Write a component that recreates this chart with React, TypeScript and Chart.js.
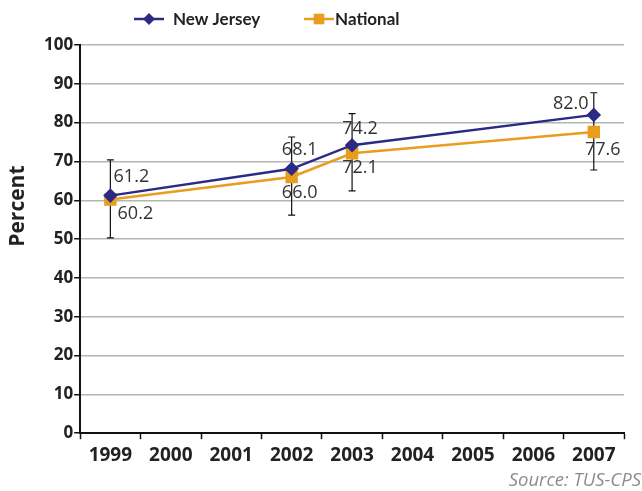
import React, { useEffect, useRef } from 'react';
import { Chart, registerables } from 'chart.js';

Chart.register(...registerables);

const years = ['1999', '2000', '2001', '2002', '2003', '2004', '2005', '2006', '2007'];
const newJersey: (number | null)[] = [61.2, null, null, 68.1, 74.2, null, null, null, 82.0];
const national: (number | null)[] = [60.2, null, null, 66.0, 72.1, null, null, null, 77.6];
const errLow: (number | null)[] = [50.3, null, null, 56.2, 62.4, null, null, null, 67.8];
const errHigh: (number | null)[] = [70.4, null, null, 76.3, 82.3, null, null, null, 87.7];
const seriesNames = ['New Jersey', 'National'];
const yAxisTitle = 'Percent';
const sourceText = 'Source: TUS-CPS';

const NAVY = '#2b2a85';
const ORANGE = '#e99d1e';
const FONT = "'Open Sans', 'DejaVu Sans', sans-serif";
const LEGEND_FONT = "Lato, 'Open Sans', sans-serif";

function drawMarker(ctx: CanvasRenderingContext2D, style: string, x: number, y: number, r: number, color: string) {
  ctx.fillStyle = color;
  ctx.beginPath();
  if (style === 'rectRot') {
    ctx.moveTo(x, y - r);
    ctx.lineTo(x + r, y);
    ctx.lineTo(x, y + r);
    ctx.lineTo(x - r, y);
    ctx.closePath();
  } else {
    const s = r * Math.SQRT1_2;
    ctx.rect(x - s, y - s, 2 * s, 2 * s);
  }
  ctx.fill();
}

const errorBarPlugin = {
  id: 'errorBars',
  beforeDatasetsDraw(chart: any) {
    const { ctx, scales } = chart;
    const xs = scales.x;
    const ys = scales.y;
    ctx.save();
    ctx.strokeStyle = '#111';
    ctx.lineWidth = 1.2;
    for (let i = 0; i < errLow.length; i++) {
      const lo = errLow[i];
      const hi = errHigh[i];
      if (lo == null || hi == null) continue;
      const x = xs.getPixelForValue(i);
      const y1 = ys.getPixelForValue(hi);
      const y2 = ys.getPixelForValue(lo);
      ctx.beginPath();
      ctx.moveTo(x, y1);
      ctx.lineTo(x, y2);
      ctx.moveTo(x - 3.5, y1);
      ctx.lineTo(x + 3.5, y1);
      ctx.moveTo(x - 3.5, y2);
      ctx.lineTo(x + 3.5, y2);
      ctx.stroke();
    }
    ctx.restore();
  },
};

const labelOffsets: { dx: number; dy: number }[][] = [
  [{ dx: 21, dy: -19 }, { dx: 0, dy: 0 }, { dx: 0, dy: 0 }, { dx: 8, dy: -19 }, { dx: 8, dy: -16 }, { dx: 0, dy: 0 }, { dx: 0, dy: 0 }, { dx: 0, dy: 0 }, { dx: -23, dy: -11 }],
  [{ dx: 25, dy: 14 }, { dx: 0, dy: 0 }, { dx: 0, dy: 0 }, { dx: 8, dy: 16 }, { dx: 8, dy: 15 }, { dx: 0, dy: 0 }, { dx: 0, dy: 0 }, { dx: 0, dy: 0 }, { dx: 9, dy: 18 }],
];

const dataLabelPlugin = {
  id: 'dataLabels',
  afterDatasetsDraw(chart: any) {
    const { ctx } = chart;
    ctx.save();
    ctx.font = `18px ${FONT}`;
    ctx.fillStyle = '#333';
    ctx.textAlign = 'center';
    ctx.textBaseline = 'middle';
    chart.data.datasets.forEach((ds: any, di: number) => {
      const meta = chart.getDatasetMeta(di);
      ds.data.forEach((v: number | null, i: number) => {
        if (v == null) return;
        const pt = meta.data[i];
        const off = labelOffsets[di][i];
        ctx.fillText(v.toFixed(1), pt.x + off.dx, pt.y + off.dy);
      });
    });
    ctx.restore();
  },
};

const legendPlugin = {
  id: 'customLegend',
  afterDraw(chart: any) {
    const { ctx } = chart;
    const y = 19;
    const starts = [134, 304];
    const gaps = [9, 1];
    ctx.save();
    ctx.font = `bold 17px ${LEGEND_FONT}`;
    ctx.textBaseline = 'middle';
    ctx.textAlign = 'left';
    chart.data.datasets.forEach((ds: any, i: number) => {
      const x = starts[i];
      ctx.strokeStyle = ds.borderColor;
      ctx.lineWidth = 2.5;
      ctx.beginPath();
      ctx.moveTo(x, y);
      ctx.lineTo(x + 30, y);
      ctx.stroke();
      drawMarker(ctx, ds.pointStyle, x + 15, y, ds.pointStyle === 'rectRot' ? 6 : 7.5, ds.borderColor);
      ctx.fillStyle = '#222';
      ctx.fillText(ds.label, x + 30 + gaps[i], y + 1);
    });
    ctx.restore();
  },
};

const textPlugin = {
  id: 'extraText',
  afterDraw(chart: any) {
    const { ctx, width, chartArea } = chart;
    ctx.save();
    ctx.font = `italic 18.5px ${FONT}`;
    ctx.fillStyle = '#8c8c8c';
    ctx.textAlign = 'right';
    ctx.textBaseline = 'middle';
    ctx.fillText(sourceText, width - 1, 481);
    ctx.translate(18, (chartArea.top + chartArea.bottom) / 2 - 33);
    ctx.rotate(-Math.PI / 2);
    ctx.font = `bold 21px ${FONT}`;
    ctx.fillStyle = '#222';
    ctx.textAlign = 'center';
    ctx.fillText(yAxisTitle, 0, 0);
    ctx.restore();
  },
};

export default function App() {
  const ref = useRef<HTMLCanvasElement | null>(null);

  useEffect(() => {
    document.body.style.margin = '0';
    if (!ref.current) return;
    const chart = new Chart(ref.current, {
      type: 'line',
      data: {
        labels: years,
        datasets: [
          {
            label: seriesNames[0],
            data: newJersey,
            borderColor: NAVY,
            backgroundColor: NAVY,
            pointBackgroundColor: NAVY,
            pointBorderColor: NAVY,
            pointStyle: 'rectRot',
            pointRadius: 5.5,
            borderWidth: 2.5,
            tension: 0,
            spanGaps: true,
          },
          {
            label: seriesNames[1],
            data: national,
            borderColor: ORANGE,
            backgroundColor: ORANGE,
            pointBackgroundColor: ORANGE,
            pointBorderColor: ORANGE,
            pointStyle: 'rect',
            pointRadius: 7,
            borderWidth: 2.5,
            tension: 0,
            spanGaps: true,
          },
        ],
      },
      options: {
        responsive: false,
        animation: false,
        layout: { padding: { left: 43, right: 18, top: 45, bottom: 19 } },
        plugins: {
          legend: { display: false },
          tooltip: { enabled: false },
        },
        scales: {
          x: {
            type: 'category',
            offset: true,
            grid: {
              display: true,
              drawOnChartArea: false,
              drawTicks: true,
              tickLength: 6,
              tickColor: '#111',
              tickWidth: 1.5,
              offset: true,
            },
            border: { color: '#111', width: 2 },
            ticks: {
              color: '#222',
              font: { family: FONT, size: 19, weight: 'bold' },
              padding: 5,
              maxRotation: 0,
            },
          },
          y: {
            min: 0,
            max: 100,
            ticks: {
              stepSize: 10,
              color: '#222',
              font: { family: FONT, size: 17, weight: 'bold' },
              padding: 1,
            },
            grid: {
              color: '#b5b5b5',
              lineWidth: 1.5,
              tickColor: '#111',
              tickLength: 6,
              tickWidth: 1.5,
            },
            border: { color: '#111', width: 2 },
          },
        },
      },
      plugins: [errorBarPlugin, dataLabelPlugin, legendPlugin, textPlugin],
    });
    return () => chart.destroy();
  }, []);

  return (
    <div style={{ width: 642, height: 491, position: 'relative' }}>
      <canvas ref={ref} width={642} height={491} />
    </div>
  );
}
